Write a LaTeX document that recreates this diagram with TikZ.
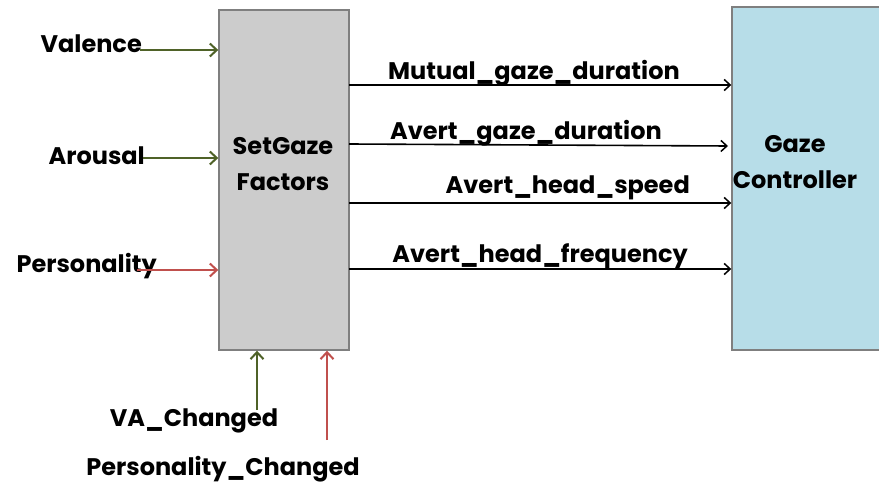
\documentclass[tikz,border=0pt]{standalone}
\usepackage{fontspec}
\setmainfont{Poppins}[UprightFont=* SemiBold, BoldFont=* Bold]
\usetikzlibrary{arrows.meta}
\definecolor{boxgray}{HTML}{CCCCCC}
\definecolor{boxedge}{HTML}{7F7F7F}
\definecolor{ctrlblue}{HTML}{B7DDE8}
\definecolor{vagreen}{HTML}{4F6228}
\definecolor{persred}{HTML}{C0504D}
\tikzset{
  block/.style={draw=boxedge, line width=1.4pt, inner sep=0pt},
  lbl/.style={inner sep=0pt, font=\fontsize{24}{28}\selectfont\bfseries, text=black},
  intip/.style={-{Straight Barb[length=7pt,width=13pt,line width=2pt]}},
  outtip/.style={-{Straight Barb[length=6pt,width=11pt,line width=1.5pt]}},
  inarrow/.style={intip, line width=2.2pt},
  outarrow/.style={outtip, line width=1.6pt, black},
}
\begin{document}
\begin{tikzpicture}[x=1pt,y=-1pt]
\useasboundingbox (0,0) rectangle (879,484);

% the two blocks
\node[block, fill=boxgray, minimum width=130pt, minimum height=340pt] (sg) at (284,180) {};
\node[block, fill=ctrlblue, minimum width=150pt, minimum height=343pt] (gc) at (807,178.5) {};
\node[lbl, align=center] (sgtext) at (283,164) {SetGaze\\[8pt]Factors};
\node[lbl, align=center] (gctext) at (795,162) {Gaze\\[8pt]Controller};

% inputs on the left
\node[lbl, anchor=east] (val) at (142,44) {Valence};
\node[lbl, anchor=east] (aro) at (145,156) {Arousal};
\node[lbl, anchor=east] (per) at (157,266) {Personality};
\coordinate (vals) at (140,50);
\coordinate (aros) at (143,158);
\coordinate (pers) at (137,270);
\draw[inarrow, vagreen] (vals) -- (vals -| sg.west);
\draw[inarrow, vagreen] (aros) -- (aros -| sg.west);
\draw[inarrow, persred] (pers) -- (pers -| sg.west);

% change events from below
\node[lbl] (vac) at (194,421) {VA\_Changed};
\node[lbl] (pc) at (223,469) {Personality\_Changed};
\coordinate (vacs) at (257,410);
\coordinate (pcs) at (327,440);
\draw[inarrow, vagreen] (vacs) -- (vacs |- sg.south);
\draw[inarrow, persred] (pcs) -- (pcs |- sg.south);

% outputs to the controller
\coordinate (o1) at (349,85);
\coordinate (o2) at (349,144);
\coordinate (o3) at (349,203);
\coordinate (o4) at (349,269);
\coordinate (o2e) at (728,146);
\draw[outarrow] (o1) -- (o1 -| gc.west);
\draw[outarrow] (o2) -- (o2e);
\draw[outarrow] (o3) -- (o3 -| gc.west);
\draw[outarrow] (o4) -- (o4 -| gc.west);
\node[lbl, anchor=west] (m1) at (388,73) {Mutual\_gaze\_duration};
\node[lbl, anchor=west] (m2) at (390,133) {Avert\_gaze\_duration};
\node[lbl, anchor=east] (m3) at (690,188) {Avert\_head\_speed};
\node[lbl, anchor=east] (m4) at (688,256) {Avert\_head\_frequency};
\end{tikzpicture}
\end{document}
